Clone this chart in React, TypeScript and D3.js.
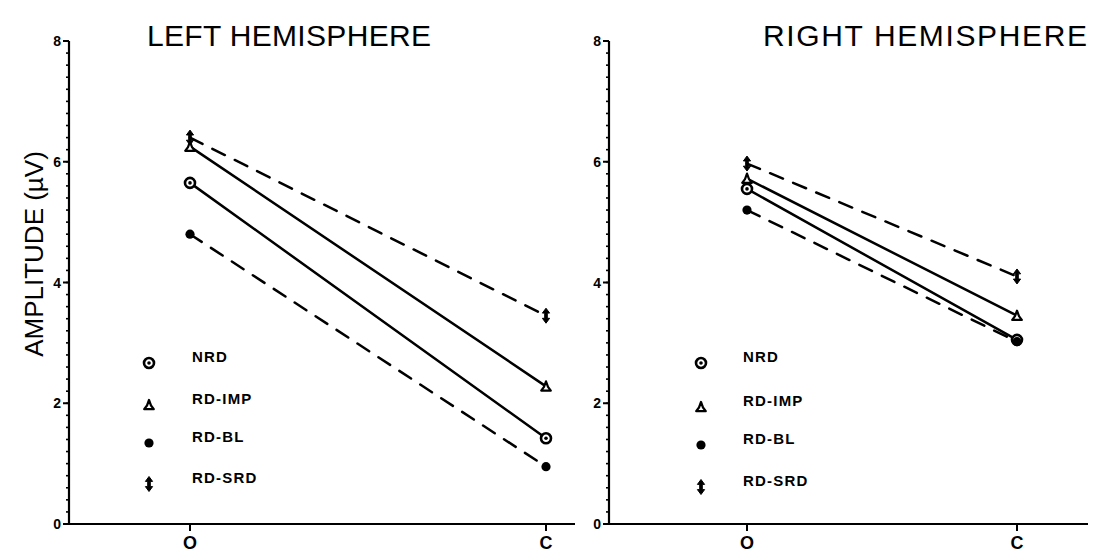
import React from "react";
import * as d3 from "d3";

// Amplitude (µV) at the two electrode sites, per group and hemisphere
const categories = ["O", "C"];
const seriesNames = ["NRD", "RD-IMP", "RD-BL", "RD-SRD"];
const seriesDashed = [false, false, true, true];
const yTicks = [0, 2, 4, 6, 8];

const leftNRD = [5.65, 1.42];
const leftIMP = [6.25, 2.28];
const leftBL = [4.8, 0.95];
const leftSRD = [6.4, 3.45];

const rightNRD = [5.55, 3.05];
const rightIMP = [5.72, 3.45];
const rightBL = [5.2, 3.02];
const rightSRD = [5.97, 4.1];

const INK = "#000";

type PanelGeom = {
  axisX: number;
  axisEnd: number;
  oX: number;
  cX: number;
  legendX: number;
  legendTextX: number;
  legendRows: number[];
  title: string;
  titleX: number;
  titleWidth: number;
};

function Marker({ kind, x, y }: { kind: string; x: number; y: number }) {
  if (kind === "NRD") {
    return (
      <g transform={`translate(${x},${y})`}>
        <circle r={5} fill="#fff" stroke={INK} strokeWidth={2.6} />
        <circle r={1.8} fill={INK} />
      </g>
    );
  }
  if (kind === "RD-IMP") {
    return (
      <path
        transform={`translate(${x},${y})`}
        d="M0,-5 L2,0.5 L4.8,4.2 L-4.8,4.2 L-2,0.5 Z"
        fill="#fff"
        stroke={INK}
        strokeWidth={2.2}
        strokeLinejoin="round"
      />
    );
  }
  if (kind === "RD-BL") {
    return <circle cx={x} cy={y} r={4.6} fill={INK} />;
  }
  return (
    <path
      transform={`translate(${x},${y})`}
      d="M0,-7.5 L3.6,-2.6 L1.3,-2.6 L1.3,2.6 L3.6,2.6 L0,7.5 L-3.6,2.6 L-1.3,2.6 L-1.3,-2.6 L-3.6,-2.6 Z"
      fill={INK}
      stroke={INK}
      strokeWidth={1}
      strokeLinejoin="round"
    />
  );
}

function Panel({ g, series, showYLabel }: { g: PanelGeom; series: number[][]; showYLabel: boolean }) {
  const y = d3.scaleLinear().domain([0, 8]).range([524, 41]);
  const x = d3.scalePoint<string>().domain(categories).range([g.oX, g.cX]).padding(0);
  const minor = d3.range(0, 8.0001, 0.2);
  const line = d3
    .line<number>()
    .x((_, i) => x(categories[i]) as number)
    .y((d) => y(d));

  return (
    <g>
      <text
        x={g.titleX - g.titleWidth / 2}
        y={46}
        textLength={g.titleWidth}
        lengthAdjust="spacing"
        fontFamily="Liberation Sans"
        fontWeight={400}
        fontSize={30}
        fill={INK}
      >
        {g.title}
      </text>

      {showYLabel && (
        <text
          transform={`translate(43,254) rotate(-90)`}
          textAnchor="middle"
          fontFamily="Liberation Sans"
          fontWeight={400}
          fontSize={26}
          fill={INK}
        >
          AMPLITUDE (µV)
        </text>
      )}

      {/* y axis */}
      <line x1={g.axisX} x2={g.axisX} y1={y(8)} y2={y(0)} stroke={INK} strokeWidth={2.2} />
      {minor.map((v) => (
        <line key={v} x1={g.axisX - 3} x2={g.axisX} y1={y(v)} y2={y(v)} stroke={INK} strokeWidth={1.6} />
      ))}
      {yTicks.map((v) => (
        <g key={v}>
          <line x1={g.axisX - 6} x2={g.axisX} y1={y(v)} y2={y(v)} stroke={INK} strokeWidth={2} />
          <text
            x={g.axisX - 8}
            y={y(v)}
            dy="0.36em"
            textAnchor="end"
            fontFamily="Liberation Sans"
            fontWeight={700}
            fontSize={14}
            fill={INK}
          >
            {v}
          </text>
        </g>
      ))}

      {/* x axis */}
      <line x1={g.axisX} x2={g.axisEnd} y1={y(0)} y2={y(0)} stroke={INK} strokeWidth={2.2} />
      {categories.map((c) => (
        <g key={c}>
          <line x1={x(c)} x2={x(c)} y1={y(0)} y2={y(0) + 7} stroke={INK} strokeWidth={2} />
          <text
            x={x(c)}
            y={549}
            textAnchor="middle"
            fontFamily="Liberation Sans"
            fontWeight={700}
            fontSize={18}
            fill={INK}
          >
            {c}
          </text>
        </g>
      ))}

      {/* series lines */}
      {series.map((vals, i) => (
        <path
          key={seriesNames[i]}
          d={line(vals) || ""}
          fill="none"
          stroke={INK}
          strokeWidth={2.5}
          strokeDasharray={seriesDashed[i] ? "14 11" : undefined}
          strokeLinecap="round"
        />
      ))}
      {series.map((vals, i) =>
        vals.map((v, j) => (
          <Marker key={`${i}-${j}`} kind={seriesNames[i]} x={x(categories[j]) as number} y={y(v)} />
        ))
      )}

      {/* legend */}
      {seriesNames.map((name, i) => (
        <g key={name}>
          <Marker kind={name} x={g.legendX} y={g.legendRows[i]} />
          <text
            x={g.legendTextX}
            y={g.legendRows[i] - 1}
            fontFamily="Liberation Sans"
            fontWeight={700}
            fontSize={15}
            letterSpacing={1.2}
            fill={INK}
          >
            {name}
          </text>
        </g>
      ))}
    </g>
  );
}

const leftGeom: PanelGeom = {
  axisX: 69,
  axisEnd: 575,
  oX: 190,
  cX: 546,
  legendX: 149,
  legendTextX: 192,
  legendRows: [363, 405, 443, 484],
  title: "LEFT HEMISPHERE",
  titleX: 289,
  titleWidth: 284,
};

const rightGeom: PanelGeom = {
  axisX: 609,
  axisEnd: 1088,
  oX: 747,
  cX: 1017,
  legendX: 701,
  legendTextX: 743,
  legendRows: [363, 407, 445, 487],
  title: "RIGHT HEMISPHERE",
  titleX: 925,
  titleWidth: 324,
};

export default function App() {
  return (
    <svg
      width={1097}
      height={559}
      viewBox="0 0 1097 559"
      style={{ position: "absolute", left: 0, top: 0, background: "#fff" }}
    >
      <rect width={1097} height={559} fill="#fff" />
      <Panel g={leftGeom} series={[leftNRD, leftIMP, leftBL, leftSRD]} showYLabel />
      <Panel g={rightGeom} series={[rightNRD, rightIMP, rightBL, rightSRD]} showYLabel={false} />
    </svg>
  );
}
